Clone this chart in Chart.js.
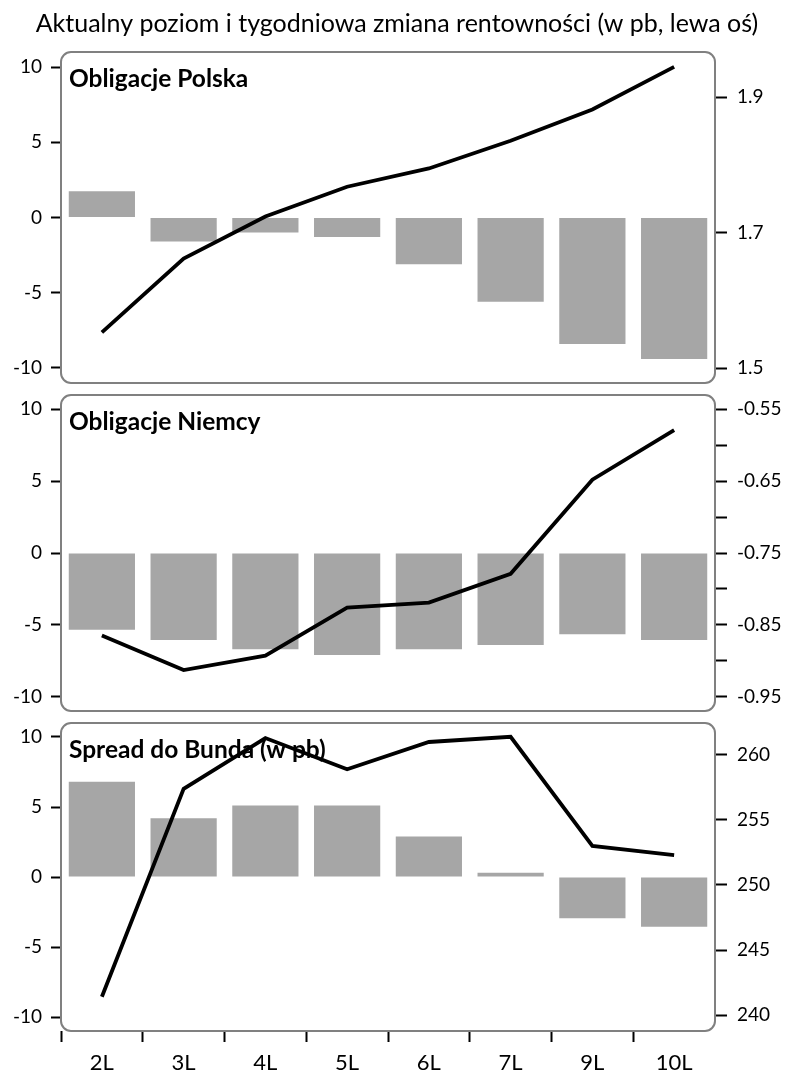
<!DOCTYPE html>
<html>
<head>
<meta charset="utf-8">
<script src="https://cdn.jsdelivr.net/npm/chart.js@4.4.1/dist/chart.umd.min.js"></script>
<style>
  html, body { margin: 0; padding: 0; background: #ffffff; }
  body { width: 786px; height: 1075px; position: relative; overflow: hidden; }
  .panel { position: absolute; left: 0; width: 786px; }
</style>
</head>
<body>
<div class="panel" style="top:0px;height:387px"><canvas id="c1"></canvas></div>
<div class="panel" style="top:391px;height:324px"><canvas id="c2"></canvas></div>
<div class="panel" style="top:719px;height:356px"><canvas id="c3"></canvas></div>
<script>
// ---- data ----
const mainTitle = 'Aktualny poziom i tygodniowa zmiana rentowności (w pb, lewa oś)';
const categories = ['2L', '3L', '4L', '5L', '6L', '7L', '9L', '10L'];

const plTitle = 'Obligacje Polska';
const plChange = [1.75, -1.6, -1.0, -1.3, -3.1, -5.6, -8.4, -9.4];
const plYield = [1.553, 1.662, 1.724, 1.768, 1.795, 1.836, 1.882, 1.945];

const deTitle = 'Obligacje Niemcy';
const deChange = [-5.35, -6.05, -6.7, -7.1, -6.7, -6.4, -5.65, -6.05];
const deYield = [-0.865, -0.913, -0.893, -0.826, -0.819, -0.779, -0.648, -0.579];

const spTitle = 'Spread do Bunda (w pb)';
const spChange = [6.8, 4.2, 5.1, 5.1, 2.9, 0.3, -2.95, -3.55];
const spLevel = [241.4, 257.4, 261.3, 258.9, 261.0, 261.4, 253.0, 252.3];

const leftTicks = [-10, -5, 0, 5, 10];
const leftRange = [-11, 11];

const plRightTicks = [1.5, 1.7, 1.9];
const plRightLabels = ['1.5', '1.7', '1.9'];
const plRightRange = [1.4783, 1.9669];

const deRightTicks = [-0.95, -0.9, -0.85, -0.8, -0.75, -0.7, -0.65, -0.6, -0.55];
const deRightLabels = ['-0.95', '', '-0.85', '', '-0.75', '', '-0.65', '', '-0.55'];
const deRightRange = [-0.97, -0.53];

const spRightTicks = [240, 245, 250, 255, 260];
const spRightLabels = ['240', '245', '250', '255', '260'];
const spRightRange = [238.77, 262.46];

// ---- style ----
const FONT = 'Lato, "Open Sans", sans-serif';
const BAR_COLOR = '#a6a6a6';
const LINE_COLOR = '#000000';
const FRAME_COLOR = '#808080';

const framePlugin = {
  id: 'frame',
  beforeDatasetsDraw(chart, args, opts) {
    const { ctx, chartArea: a } = chart;
    ctx.save();
    ctx.fillStyle = '#000';
    ctx.font = 'bold 24.5px ' + FONT;
    ctx.textAlign = 'left';
    ctx.textBaseline = 'alphabetic';
    ctx.fillText(opts.text, a.left + 8, a.top + 35);
    ctx.restore();
  },
  afterDatasetsDraw(chart) {
    const { ctx, chartArea: a } = chart;
    ctx.save();
    ctx.strokeStyle = FRAME_COLOR;
    ctx.lineWidth = 2;
    ctx.beginPath();
    ctx.roundRect(a.left, a.top, a.right - a.left, a.bottom - a.top, 10);
    ctx.stroke();
    ctx.restore();
  }
};

const mainTitlePlugin = {
  id: 'mainTitle',
  afterDraw(chart, args, opts) {
    if (!opts.text) return;
    const ctx = chart.ctx;
    ctx.save();
    ctx.fillStyle = '#000';
    ctx.font = '25px ' + FONT;
    ctx.textAlign = 'center';
    ctx.textBaseline = 'alphabetic';
    ctx.fillText(opts.text, 397, 32);
    ctx.restore();
  }
};

function makePanel(id, title, change, level, rightTicks, rightLabels, rightRange, showX, padTop, topTitle) {
  const tickFont = { family: FONT, size: 19 };
  return new Chart(document.getElementById(id), {
    data: {
      labels: categories,
      datasets: [
        {
          type: 'line', data: level, yAxisID: 'y2', order: 0,
          borderColor: LINE_COLOR, borderWidth: 3.8, pointRadius: 0, tension: 0,
          fill: false, borderJoinStyle: 'miter'
        },
        {
          type: 'bar', data: change, yAxisID: 'y', order: 1,
          backgroundColor: BAR_COLOR, borderWidth: 0,
          barPercentage: 0.81, categoryPercentage: 1.0
        }
      ]
    },
    options: {
      responsive: true,
      maintainAspectRatio: false,
      animation: false,
      devicePixelRatio: 1,
      layout: { padding: { top: padTop, bottom: showX ? 0 : 4, left: 0, right: 0 } },
      plugins: {
        legend: { display: false },
        tooltip: { enabled: false },
        frame: { text: title },
        mainTitle: { text: topTitle }
      },
      scales: {
        x: {
          display: showX,
          offset: true,
          grid: {
            offset: true, drawOnChartArea: false, drawTicks: true,
            tickLength: 11, tickWidth: 2,
            tickColor: ctx => ctx.type === 'tick' ? '#000' : 'rgba(0,0,0,0)'
          },
          border: { display: false },
          ticks: { color: '#000', font: { family: FONT, size: 22 }, padding: 8, maxRotation: 0 },
          afterFit: s => {
            s.height = showX ? 44 : 0;
            s.paddingLeft = 0; s.paddingRight = 0;
          }
        },
        y: {
          position: 'left',
          min: leftRange[0], max: leftRange[1],
          afterBuildTicks: s => { s.ticks = leftTicks.map(v => ({ value: v })); },
          grid: { drawOnChartArea: false, tickLength: 10, tickWidth: 2, tickColor: '#000' },
          border: { display: false },
          ticks: { color: '#000', font: tickFont, padding: 9, callback: v => String(v) },
          afterFit: s => { s.width = 61; s.paddingTop = 0; s.paddingBottom = 0; }
        },
        y2: {
          position: 'right',
          min: rightRange[0], max: rightRange[1],
          afterBuildTicks: s => { s.ticks = rightTicks.map(v => ({ value: v })); },
          grid: { drawOnChartArea: false, tickLength: 12, tickWidth: 2, tickColor: '#000' },
          border: { display: false },
          ticks: { color: '#000', font: tickFont, padding: 10, callback: (v, i) => rightLabels[i] },
          afterFit: s => { s.width = 71; s.paddingTop = 0; s.paddingBottom = 0; }
        }
      }
    },
    plugins: [framePlugin, mainTitlePlugin]
  });
}

makePanel('c1', plTitle, plChange, plYield, plRightTicks, plRightLabels, plRightRange, false, 52, mainTitle);
makePanel('c2', deTitle, deChange, deYield, deRightTicks, deRightLabels, deRightRange, false, 4, '');
makePanel('c3', spTitle, spChange, spLevel, spRightTicks, spRightLabels, spRightRange, true, 4, '');
</script>
</body>
</html>
